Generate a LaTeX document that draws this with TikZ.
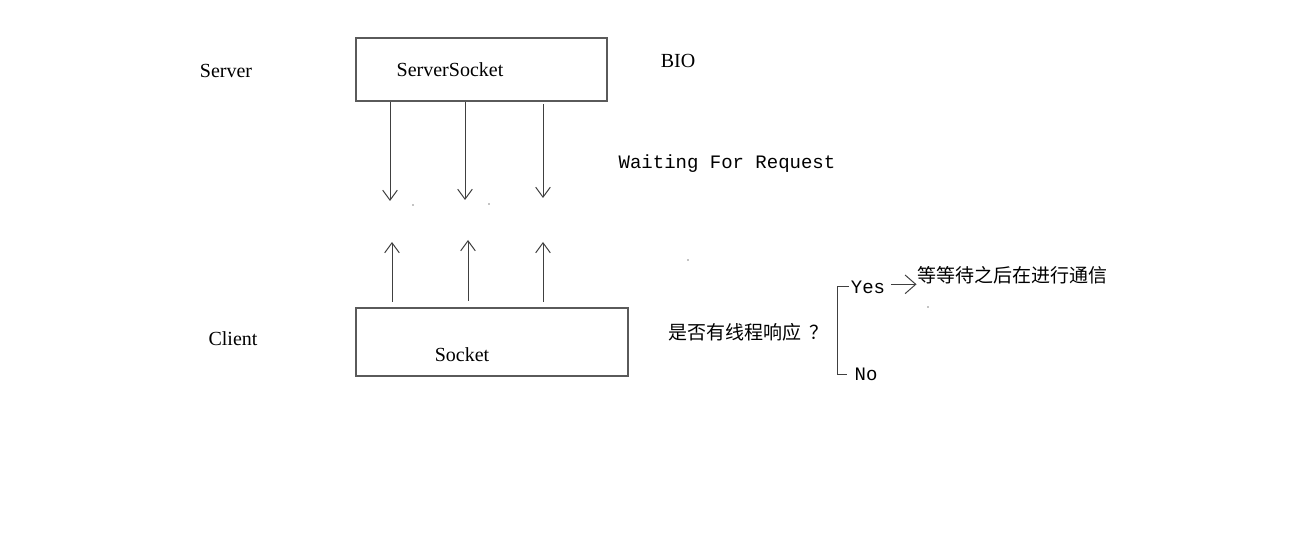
\documentclass[tikz,border=0pt]{standalone}
\usepackage{fontspec}
\setmainfont{Liberation Serif}
\setmonofont{Liberation Mono}
\newfontfamily\cjk{Noto Sans CJK SC}
\usepackage{xcolor}
\definecolor{linegray}{HTML}{404040}
\definecolor{boxgray}{HTML}{5A5A5A}
\usetikzlibrary{arrows.meta}

\begin{document}
\begin{tikzpicture}[x=0.75pt,y=-0.75pt,>={Straight Barb[length=7.5pt,width=11pt]},line width=0.75pt]
            \tikzstyle{lbl}=[inner sep=0pt,font=\fontsize{15}{18}\selectfont]
            \tikzstyle{mono}=[inner sep=0pt,font=\fontsize{14.25}{17}\ttfamily]
            \tikzstyle{zh}=[inner sep=0pt,font=\fontsize{14.25}{17}\cjk]
            \tikzstyle{box}=[draw=boxgray,line width=1pt,inner sep=0pt]
            \tikzstyle{be}=[->,color=linegray]
            \tikzstyle{be2}=[-{Straight Barb[length=8pt,width=14pt]},color=linegray]

            \useasboundingbox (0,0) rectangle (1292,545);

            \node[box,minimum width=188.25pt,minimum height=47.25pt] (ssock) at (481.5,69.5) {};
            \node[box,minimum width=204pt,minimum height=51pt]       (sock)  at (492,342)    {};

            \node[lbl]  (server) at (226,71)  {Server};
            \node[lbl]  (sstext) at (450,70)  {ServerSocket};
            \node[lbl]  (bio)    at (678,61)  {BIO};
            \node[lbl]  (client) at (233,339) {Client};
            \node[lbl]  (stext)  at (462,355) {Socket};
            \node[mono] (wait)   at (727,164) {Waiting For Request};
            \node[zh]   (ask)    at (748,332) {是否有线程响应\hspace{6pt}？};
            \node[mono] (yes)    at (868,287) {Yes};
            \node[mono] (no)     at (866,374) {No};
            \node[zh]   (res)    at (1012,275) {等等待之后在进行通信};

            % request ends
            \coordinate (d1) at (390,201);
            \coordinate (d2) at (465,200);
            \coordinate (d3) at (543,198);
            \coordinate (u1) at (392,242);
            \coordinate (u2) at (468,240);
            \coordinate (u3) at (543,242);
            \coordinate (br) at (837,331);

            \path   (ssock.south -| d1) edge [be]                 (d1)
                    (ssock.south -| d2) edge [be]                 (d2)
                    (ssock.south -| d3) edge [be, shorten <=2pt]  (d3)
                    (sock.north -| u1)  edge [be, shorten <=4pt]  (u1)
                    (sock.north -| u2)  edge [be, shorten <=5pt]  (u2)
                    (sock.north -| u3)  edge [be, shorten <=4pt]  (u3)
                    ([yshift=2pt]yes.east) edge [be2, shorten <=4pt] ([yshift=2pt]yes.east -| res.west);

            \draw[color=linegray] ([xshift=-1pt]yes.west) -| (br) |- ([xshift=-5pt]no.west);

            % stray dots
            \foreach \p in {(413,205),(489,204),(688,260),(928,307)}
                \fill[black] \p circle (0.5pt);
        \end{tikzpicture}
\end{document}
